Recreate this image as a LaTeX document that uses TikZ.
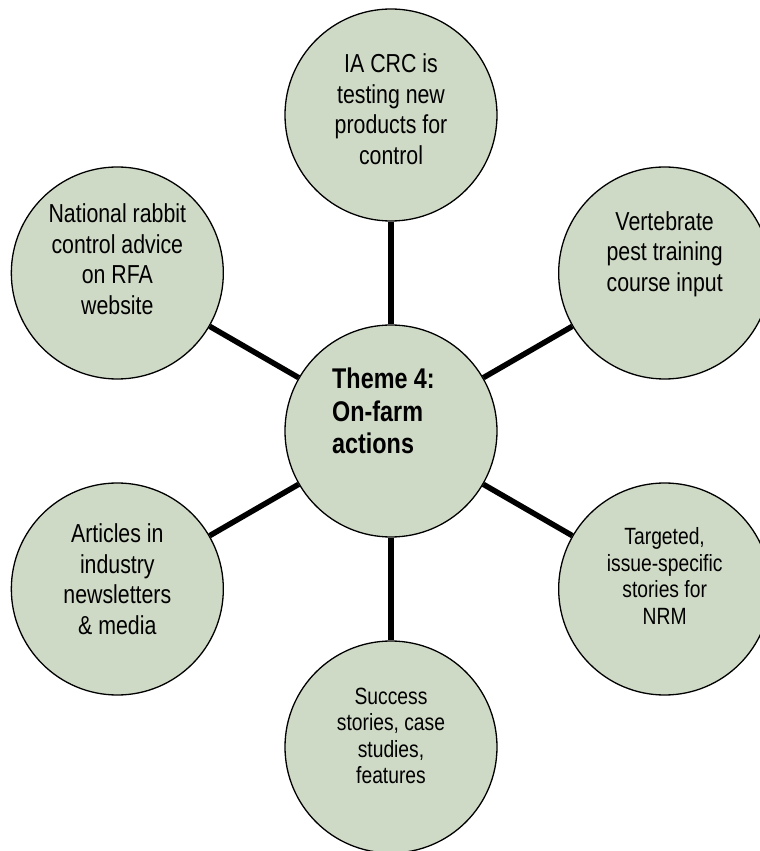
\documentclass[tikz,border=0pt]{standalone}
\usepackage{fontspec}
\newfontfamily\narrowsans[FakeStretch=0.82]{Liberation Sans}
\usepackage{tikz}
\usetikzlibrary{positioning}
\definecolor{sage}{RGB}{207,218,198}

\begin{document}
\begin{tikzpicture}[
    x=1pt, y=1pt,
    bubble/.style={draw, line width=1.3pt, circle, fill=sage,
                   minimum size=212pt, inner sep=0pt},
    spoke/.style={line width=5.5pt},
    blurb/.style={align=center, inner sep=0pt,
                  font=\narrowsans\fontsize{26}{30.5}\selectfont},
    small blurb/.style={blurb, font=\narrowsans\fontsize{23.5}{26.5}\selectfont},
    theme/.style={align=left, inner sep=0pt, anchor=west,
                  font=\narrowsans\bfseries\fontsize{28.5}{32.5}\selectfont},
]
  \useasboundingbox (-391,-420) rectangle (369,431);

  \node[bubble] (hub)      at (0,0)     {};
  \node[bubble] (testing)  at (90:316)  {};
  \node[bubble] (training) at (30:316)  {};
  \node[bubble] (stories)  at (-30:316) {};
  \node[bubble] (success)  at (-90:316) {};
  \node[bubble] (articles) at (210:316) {};
  \node[bubble] (website)  at (150:316) {};

  \draw[spoke] (hub) -- (testing);
  \draw[spoke] (hub) -- (training);
  \draw[spoke] (hub) -- (stories);
  \draw[spoke] (hub) -- (success);
  \draw[spoke] (hub) -- (articles);
  \draw[spoke] (hub) -- (website);

  \node[theme] (hubtext) at ([xshift=-59pt, yshift=20pt]hub)
        {Theme 4:\\On-farm\\actions};
  \node[blurb] (testingtext) at ([yshift=6pt]testing)
        {IA CRC is\\testing new\\products for\\control};
  \node[blurb] (trainingtext) at ([yshift=19pt]training)
        {Vertebrate\\pest training\\course input};
  \node[small blurb] (storiestext) at ([yshift=13pt]stories)
        {Targeted,\\issue-specific\\stories for\\NRM};
  \node[small blurb] (successtext) at ([yshift=11pt]success)
        {Success\\stories, case\\studies,\\features};
  \node[blurb] (articlestext) at ([yshift=10pt]articles)
        {Articles in\\industry\\newsletters\\\& media};
  \node[blurb] (websitetext) at ([yshift=14pt]website)
        {National rabbit\\control advice\\on RFA\\website};
\end{tikzpicture}
\end{document}
